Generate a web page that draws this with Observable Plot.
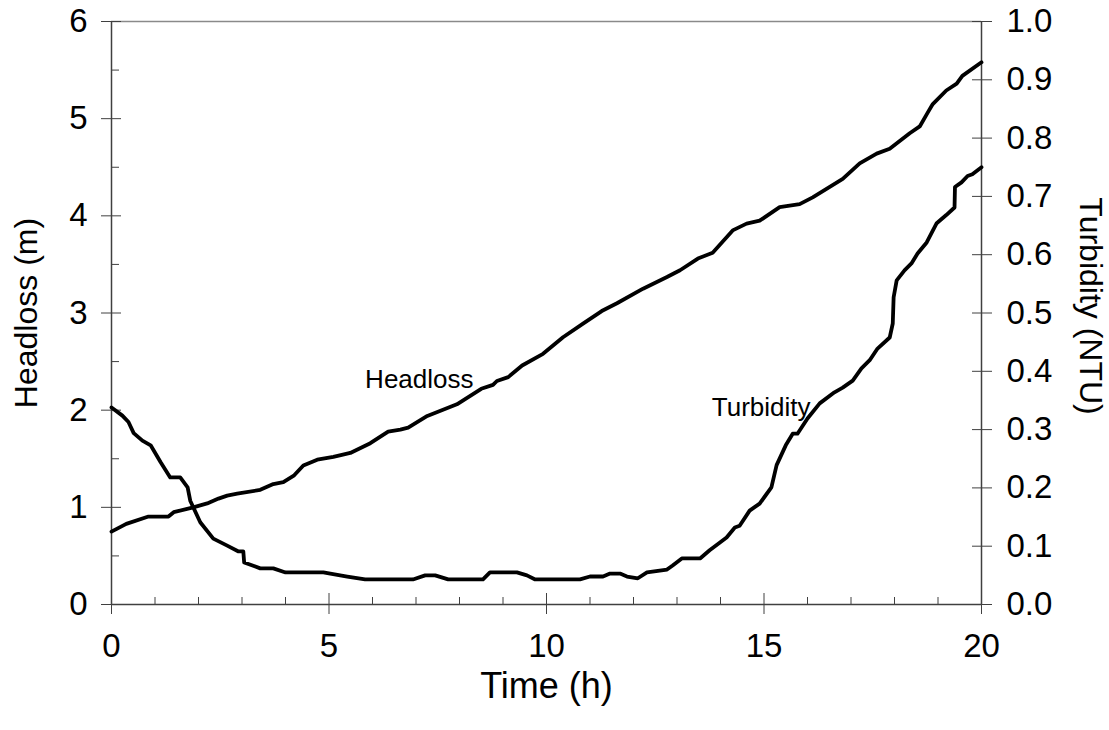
<!DOCTYPE html>
<html><head><meta charset="utf-8">
<script src="https://cdn.jsdelivr.net/npm/d3@7"></script>
<script src="https://cdn.jsdelivr.net/npm/@observablehq/plot@0.6"></script>
<style>body{margin:0;background:#fff}</style>
</head><body><div id="chart"></div>
<script>
// ---- data ----
const headT = [0, 0.34, 0.85, 1.31, 1.43, 1.88, 2.2, 2.46, 2.66, 2.89, 3.42, 3.72, 3.95, 4.2, 4.41, 4.73, 5.1, 5.49, 5.95, 6.36, 6.64, 6.82, 7.26, 7.94, 8.5, 8.77, 8.86, 9.12, 9.44, 9.92, 10.38, 10.84, 11.27, 11.62, 12.22, 12.77, 13.07, 13.48, 13.82, 14.28, 14.6, 14.9, 15.36, 15.82, 16.12, 16.81, 17.2, 17.59, 17.89, 18.12, 18.35, 18.58, 18.76, 18.88, 19.19, 19.43, 19.56, 20];
const headV = [0.75, 0.83, 0.905, 0.905, 0.95, 1.0, 1.04, 1.09, 1.12, 1.14, 1.18, 1.24, 1.26, 1.33, 1.43, 1.49, 1.52, 1.56, 1.66, 1.78, 1.80, 1.82, 1.94, 2.06, 2.22, 2.26, 2.30, 2.34, 2.46, 2.58, 2.75, 2.89, 3.02, 3.10, 3.25, 3.37, 3.44, 3.56, 3.62, 3.85, 3.92, 3.95, 4.09, 4.12, 4.19, 4.38, 4.54, 4.64, 4.69, 4.77, 4.85, 4.92, 5.06, 5.15, 5.29, 5.36, 5.44, 5.58];
const turbT = [0, 0.25, 0.39, 0.51, 0.71, 0.9, 1.13, 1.35, 1.58, 1.75, 1.81, 2.04, 2.34, 2.66, 2.92, 3.03, 3.05, 3.42, 3.72, 4.0, 4.87, 5.03, 5.42, 5.83, 6.93, 7.21, 7.44, 7.74, 8.54, 8.7, 9.32, 9.55, 9.74, 10.77, 11.0, 11.3, 11.46, 11.69, 11.85, 12.1, 12.31, 12.77, 12.9, 13.11, 13.53, 13.75, 13.98, 14.14, 14.33, 14.44, 14.67, 14.9, 15.17, 15.29, 15.5, 15.66, 15.77, 16.0, 16.28, 16.62, 16.81, 17.04, 17.24, 17.43, 17.61, 17.89, 17.96, 17.98, 18.05, 18.23, 18.39, 18.53, 18.74, 18.97, 19.19, 19.38, 19.39, 19.54, 19.68, 19.79, 20];
const turbV = [0.338, 0.324, 0.313, 0.294, 0.281, 0.273, 0.244, 0.218, 0.218, 0.201, 0.178, 0.141, 0.113, 0.101, 0.091, 0.091, 0.072, 0.062, 0.062, 0.055, 0.055, 0.053, 0.048, 0.043, 0.043, 0.05, 0.05, 0.043, 0.043, 0.055, 0.055, 0.05, 0.043, 0.043, 0.048, 0.048, 0.053, 0.053, 0.048, 0.045, 0.055, 0.06, 0.067, 0.079, 0.079, 0.093, 0.106, 0.115, 0.132, 0.135, 0.161, 0.173, 0.201, 0.239, 0.273, 0.293, 0.293, 0.319, 0.345, 0.364, 0.372, 0.384, 0.405, 0.419, 0.439, 0.458, 0.482, 0.527, 0.556, 0.573, 0.585, 0.602, 0.621, 0.654, 0.668, 0.681, 0.716, 0.724, 0.735, 0.738, 0.75];

const xDomain = [0, 20];
const yDomain = [0, 6];
const turbDomain = [0, 1.0];
const xMajor = [0, 5, 10, 15, 20];
const xMinor = [1, 2, 3, 4, 6, 7, 8, 9, 11, 12, 13, 14, 16, 17, 18, 19];
const yMajor = [0, 1, 2, 3, 4, 5, 6];
const yMinor = [0.5, 1.5, 2.5, 3.5, 4.5, 5.5];
const turbTicks = [0.0, 0.1, 0.2, 0.3, 0.4, 0.5, 0.6, 0.7, 0.8, 0.9, 1.0];

const xTitle = "Time (h)";
const yTitle = "Headloss (m)";
const y2Title = "Turbidity (NTU)";
const labelNames = ["Headloss", "Turbidity"];
const labelT = [5.83, 13.8];
const labelV = [2.23, 0.324]; // headloss in m, turbidity in NTU
const labelAxis = ["left", "right"];

// ---- build ----
const k = yDomain[1] / turbDomain[1];
const head = headT.map((t, i) => ({t, v: headV[i]}));
const turb = turbT.map((t, i) => ({t, v: turbV[i] * k}));
const labels = labelNames.map((name, i) => ({name, t: labelT[i], v: labelAxis[i] === "right" ? labelV[i] * k : labelV[i]}));

const font = "'Liberation Sans', Arial, Helvetica, sans-serif";
const axisColor = "#404040";
const tickFont = 33;
const titleFont = 32;
const xTitleFont = 36;

const chart = Plot.plot({
  width: 1109, height: 730,
  marginLeft: 111, marginRight: 128, marginTop: 21, marginBottom: 126,
  x: {domain: xDomain},
  y: {domain: yDomain},
  style: {fontFamily: font, background: "white", color: "black"},
  marks: [
    Plot.ruleY([yDomain[1]], {stroke: "#8a8a8a", strokeWidth: 1.5}),
    Plot.ruleX([xDomain[0]], {stroke: axisColor, strokeWidth: 1.5}),
    Plot.ruleX([xDomain[1]], {stroke: axisColor, strokeWidth: 1.5}),
    Plot.ruleY([yDomain[0]], {stroke: axisColor, strokeWidth: 1.5}),
    // left axis
    Plot.axisY(yMinor, {anchor: "left", tickSize: -8, fill: "none", stroke: axisColor, label: null}),
    Plot.axisY(yMajor, {anchor: "left", tickSize: 10, fill: "none", stroke: axisColor, label: null}),
    Plot.axisY(yMajor, {anchor: "left", tickSize: -10, fill: "none", stroke: axisColor, label: null}),
    Plot.axisY(yMajor, {anchor: "left", tickSize: 0, tickPadding: 24, fontSize: tickFont, label: null, tickFormat: d => String(d)}),
    // right axis (turbidity)
    Plot.axisY(turbTicks.map(v => v * k), {anchor: "right", tickSize: 10, fill: "none", stroke: axisColor, label: null}),
    Plot.axisY(turbTicks.map(v => v * k), {anchor: "right", tickSize: -10, fill: "none", stroke: axisColor, label: null}),
    Plot.axisY(turbTicks.map(v => v * k), {anchor: "right", tickSize: 0, tickPadding: 25, fontSize: tickFont, label: null, tickFormat: d => (d / k).toFixed(1)}),
    // bottom axis
    Plot.axisX(xMinor, {anchor: "bottom", tickSize: -7, fill: "none", stroke: axisColor, label: null}),
    Plot.axisX(xMajor, {anchor: "bottom", tickSize: 10, fill: "none", stroke: axisColor, label: null}),
    Plot.axisX(xMajor, {anchor: "bottom", tickSize: -11, fill: "none", stroke: axisColor, label: null}),
    Plot.axisX(xMajor, {anchor: "bottom", tickSize: 0, tickPadding: 29, fontSize: tickFont, label: null, tickFormat: d => String(d)}),
    // series
    Plot.line(head, {x: "t", y: "v", stroke: "black", strokeWidth: 3.8}),
    Plot.line(turb, {x: "t", y: "v", stroke: "black", strokeWidth: 3.8}),
    // in-plot labels
    Plot.text(labels, {x: "t", y: "v", text: "name", textAnchor: "start", lineAnchor: "bottom", fontSize: 26, fill: "black"}),
    // axis titles
    Plot.text([xTitle], {frameAnchor: "bottom", dy: 82, text: d => d, textAnchor: "middle", fontSize: xTitleFont, lineAnchor: "middle", fill: "black"}),
    Plot.text([yTitle], {frameAnchor: "left", rotate: -90, dx: -85, text: d => d, textAnchor: "middle", fontSize: titleFont, lineAnchor: "middle", fill: "black"}),
    Plot.text([y2Title], {frameAnchor: "right", rotate: 90, dx: 109, dy: -7, text: d => d, textAnchor: "middle", fontSize: titleFont, lineAnchor: "middle", fill: "black"})
  ]
});
document.getElementById("chart").appendChild(chart);
</script>
</body></html>
